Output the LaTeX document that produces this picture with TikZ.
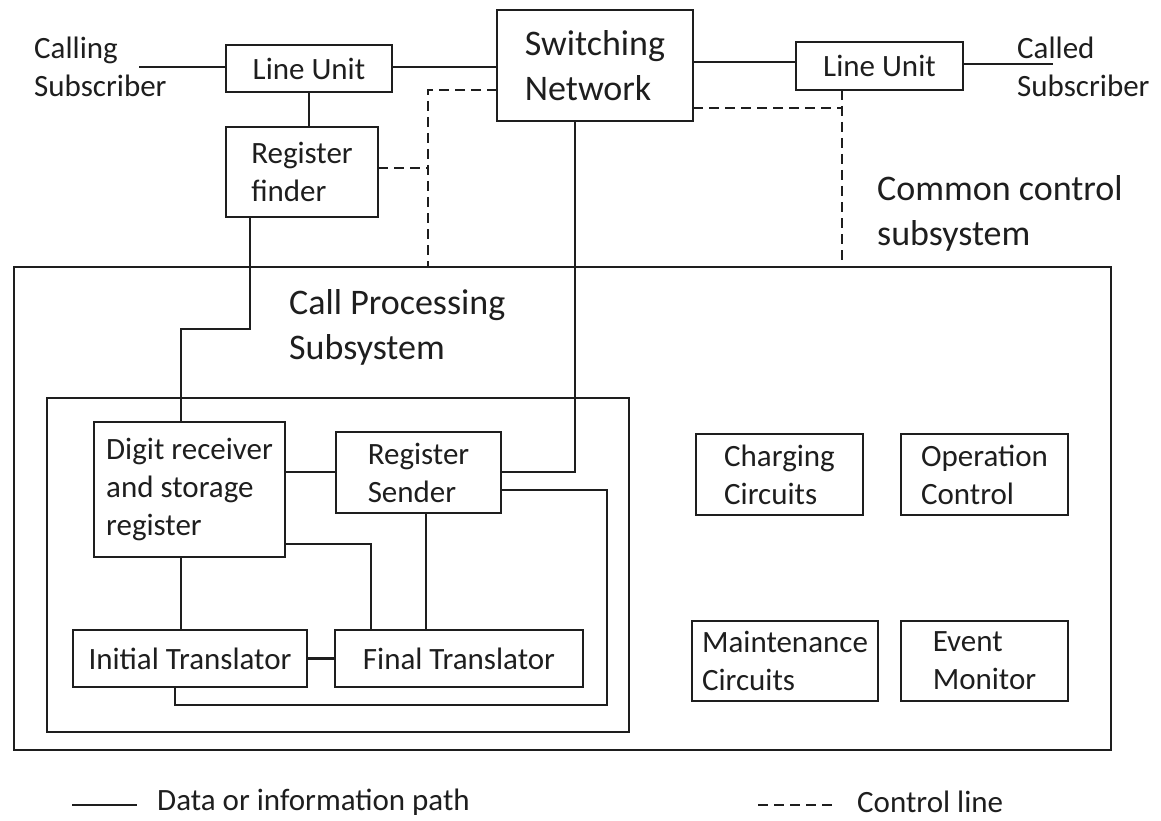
\documentclass[tikz,border=0pt]{standalone}
\usepackage{fontspec}
\setmainfont{Carlito}
\definecolor{ink}{HTML}{1E1E1E}
\tikzset{
  every node/.style={text=ink},
  box/.style={draw=ink, line width=2.8pt, rectangle, outer sep=0pt, inner sep=2pt, align=left, font=\fontsize{31}{38}\selectfont},
  bigbox/.style={draw=ink, line width=2.8pt, rectangle, outer sep=0pt, inner sep=0pt},
  lbl/.style={align=left, inner sep=0pt, font=\fontsize{31}{38}\selectfont},
  biglbl/.style={align=left, inner sep=0pt, font=\fontsize{36}{45}\selectfont},
  datal/.style={draw=ink, line width=2.8pt},
  ctrl/.style={draw=ink, line width=2.8pt, dash pattern=on 10pt off 6pt}
}
\begin{document}
\begin{tikzpicture}[x=1pt,y=-1pt]
\useasboundingbox (0,0) rectangle (1161,821);
% outer boxes
\node[bigbox, minimum width=1097, minimum height=483] (outer) at (562.5,508.5) {};
\node[bigbox, minimum width=582, minimum height=334] (inner) at (338,565) {};
% top row
\node[box, minimum width=166, minimum height=47] (lu1) at (309,68.5) {Line Unit};
\node[box, minimum width=196, minimum height=111, font=\fontsize{36}{45}\selectfont] (sn) at (595,65.5) {Switching\\Network};
\node[box, minimum width=167, minimum height=48] (lu2) at (879.5,66) {Line Unit};
\node[box, minimum width=152, minimum height=90] (rf) at (302,172) {Register\\finder};
% call processing
\node[box, minimum width=191, minimum height=135] (dr) at (189.5,489.5) {Digit receiver\\and storage\\register};
\node[box, minimum width=165, minimum height=81] (rs) at (418.5,472.5) {Register\\Sender};
\node[box, minimum width=234, minimum height=57] (it) at (190,658.5) {Initial Translator};
\node[box, minimum width=248, minimum height=57] (ft) at (459,658.5) {Final Translator};
% right boxes
\node[box, minimum width=167, minimum height=81] (cc) at (779.5,474.5) {Charging\\Circuits};
\node[box, minimum width=167, minimum height=81] (oc) at (984.5,474.5) {Operation\\Control};
\node[box, minimum width=186, minimum height=80] (mc) at (785,661) {Maintenance\\Circuits};
\node[box, minimum width=167, minimum height=80] (em) at (984.5,661) {Event\\Monitor};
% free labels
\node[lbl, anchor=west] (calling) at (34,67) {Calling\\Subscriber};
\node[lbl, anchor=west] (called) at (1017,67) {Called\\Subscriber};
\node[biglbl, anchor=west] (ccs) at (877,213) {Common control\\subsystem};
\node[biglbl, anchor=west] (cps) at (289,327) {Call Processing\\Subsystem};
% coordinates
\coordinate (callingend) at (139,67);
\coordinate (calledend) at (1053,64);
% data paths
\draw[datal] (callingend) -- (lu1.west |- callingend);
\draw[datal] (lu1.east |- 0,67) -- (sn.west |- 0,67);
\draw[datal] (sn.east |- 0,62) -- (lu2.west |- 0,62);
\draw[datal] (lu2.east |- calledend) -- (calledend);
\draw[datal] (lu1.south) -- (lu1.south |- rf.north);
\draw[datal] (250,0 |- rf.south) -- (250,329) -- (181,329) -- (181,0 |- dr.north);
\draw[datal] (575,0 |- sn.south) -- (575,472) -- (rs.east |- 0,472);
\draw[datal] (dr.east |- 0,472) -- (rs.west |- 0,472);
\draw[datal] (rs.east |- 0,490) -- (607,490) -- (607,705) -- (175,705) -- (175,0 |- it.south);
\draw[datal] (426,0 |- rs.south) -- (426,0 |- ft.north);
\draw[datal] (dr.east |- 0,544) -- (371,544) -- (371,0 |- ft.north);
\draw[datal] (181,0 |- dr.south) -- (181,0 |- it.north);
\draw[datal] (it.east) -- (ft.west |- it.east);
% control lines
\draw[ctrl] (sn.west |- 0,90) -- (428,90) -- (428,0 |- outer.north);
\draw[ctrl] (rf.east |- 0,168) -- (428,168);
\draw[ctrl] (sn.east |- 0,108) -- (842,108);
\draw[ctrl] (842,0 |- lu2.south) -- (842,0 |- outer.north);
% legend
\coordinate (l1a) at (72,805);
\coordinate (l1b) at (137,805);
\coordinate (l2a) at (758,805);
\coordinate (l2b) at (837,805);
\draw[datal] (l1a) -- (l1b);
\node[lbl, anchor=west] (leg1) at (157,802) {Data or information path};
\draw[ctrl] (l2a) -- (l2b);
\node[lbl, anchor=west] (leg2) at (857,802) {Control line};
\end{tikzpicture}
\end{document}
